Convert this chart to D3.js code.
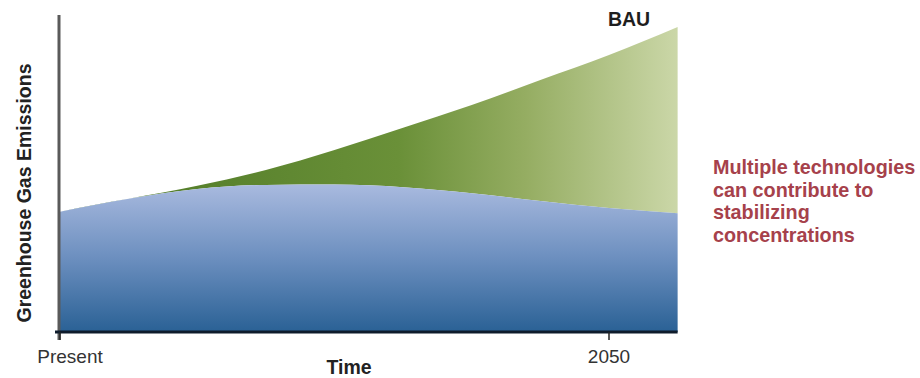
<!DOCTYPE html>
<html>
<head>
<meta charset="utf-8">
<script src="https://cdn.jsdelivr.net/npm/d3@7"></script>
<style>
html,body{margin:0;padding:0;background:#fff;}
svg{display:block;font-family:"Liberation Sans",Arial,Helvetica,sans-serif;}
</style>
</head>
<body>
<svg id="chart" width="920" height="378"></svg>
<script>
// ---- data ----
const years = [2010, 2015, 2020, 2025, 2030, 2035, 2040, 2045, 2050, 2055];
const stabilized = [37.9, 42.0, 45.1, 46.4, 46.5, 45.7, 43.8, 41.3, 39.1, 37.5];
const bau = [37.9, 42.0, 46.1, 51.1, 57.4, 64.4, 71.6, 79.5, 87.4, 96.2];
const tickYears = [2010, 2050];
const tickLabels = ["Present", "2050"];
const noteLines = ["Multiple technologies", "can contribute to", "stabilizing", "concentrations"];

const svg = d3.select("#chart");
const x = d3.scaleLinear().domain([2010, 2050]).range([60, 609]);
const y = d3.scaleLinear().domain([0, 100]).range([332, 15]);

const defs = svg.append("defs");
const gBlue = defs.append("linearGradient").attr("id", "gBlue")
  .attr("gradientUnits", "userSpaceOnUse").attr("x1", 0).attr("x2", 0).attr("y1", 184).attr("y2", 332);
gBlue.append("stop").attr("offset", 0).attr("stop-color", "#a9badf");
gBlue.append("stop").attr("offset", 0.5).attr("stop-color", "#6c8fbf");
gBlue.append("stop").attr("offset", 1).attr("stop-color", "#2a6195");

const gGreen = defs.append("linearGradient").attr("id", "gGreen")
  .attr("gradientUnits", "userSpaceOnUse").attr("x1", 170).attr("x2", 678).attr("y1", 0).attr("y2", 0);
gGreen.append("stop").attr("offset", 0).attr("stop-color", "#557f2b");
gGreen.append("stop").attr("offset", 0.45).attr("stop-color", "#6a9038");
gGreen.append("stop").attr("offset", 0.7).attr("stop-color", "#95ad62");
gGreen.append("stop").attr("offset", 1).attr("stop-color", "#cbd7a8");

const data = years.map((yr, i) => ({yr, s: stabilized[i], b: bau[i]}));

const areaGreen = d3.area().curve(d3.curveMonotoneX)
  .x(d => x(d.yr)).y0(d => y(d.s)).y1(d => y(d.b));
const areaBlue = d3.area().curve(d3.curveMonotoneX)
  .x(d => x(d.yr)).y0(y(0)).y1(d => y(d.s));

svg.append("path").datum(data).attr("d", areaGreen).attr("fill", "url(#gGreen)");
svg.append("path").datum(data).attr("d", areaBlue).attr("fill", "url(#gBlue)");

// axes
svg.append("line").attr("x1", 59).attr("x2", 59).attr("y1", 15).attr("y2", 340)
  .attr("stroke", "#5a5a5a").attr("stroke-width", 3);
svg.append("line").attr("x1", 55).attr("x2", x(2055)).attr("y1", y(0)).attr("y2", y(0))
  .attr("stroke", "#0f1c2c").attr("stroke-width", 3);

tickYears.forEach((t, i) => {
  svg.append("line").attr("x1", x(t)).attr("x2", x(t)).attr("y1", y(0)).attr("y2", y(0) + 8)
    .attr("stroke", "#222").attr("stroke-width", 1.5);
  svg.append("text").attr("x", i === 0 ? 70 : x(t)).attr("y", 363)
    .attr("text-anchor", "middle").attr("font-size", 19).attr("fill", "#333").text(tickLabels[i]);
});

svg.append("text").attr("x", 349).attr("y", 374).attr("text-anchor", "middle")
  .attr("font-size", 19.5).attr("font-weight", "bold").attr("fill", "#222").text("Time");

svg.append("text").attr("transform", "translate(31,193) rotate(-90)").attr("text-anchor", "middle")
  .attr("font-size", 19.5).attr("font-weight", "bold").attr("fill", "#222").text("Greenhouse Gas Emissions");

svg.append("text").attr("x", 629).attr("y", 26).attr("text-anchor", "middle")
  .attr("font-size", 19.5).attr("font-weight", "bold").attr("fill", "#1e1e1e").text("BAU");

svg.append("g").selectAll("text").data(noteLines).join("text")
  .attr("x", 713).attr("y", (d, i) => 174 + i * 22.5)
  .attr("font-size", 19.8).attr("font-weight", "bold").attr("fill", "#a6414b").text(d => d);
</script>
</body>
</html>
